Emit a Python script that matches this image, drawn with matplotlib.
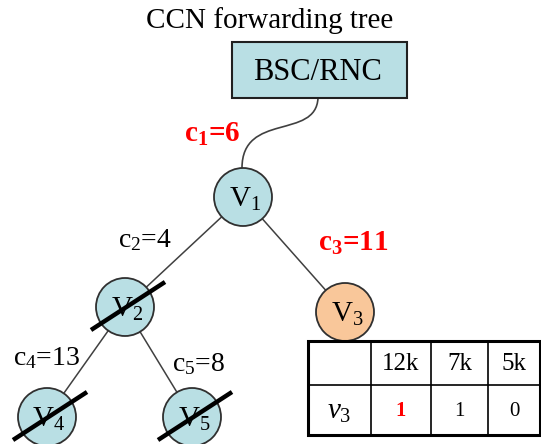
import matplotlib
matplotlib.use("Agg")
import matplotlib.pyplot as plt
from matplotlib.patches import Circle, Rectangle, PathPatch
from matplotlib.path import Path

plt.rcParams['font.family'] = ['Liberation Serif', 'DejaVu Serif']
plt.rcParams['mathtext.fontset'] = 'custom'
plt.rcParams['mathtext.rm'] = 'Liberation Serif'
plt.rcParams['mathtext.it'] = 'Liberation Serif:italic'
plt.rcParams['mathtext.bf'] = 'Liberation Serif:bold'

# data
title = "CCN forwarding tree"
root = "BSC/RNC"
nodes = ["1", "2", "3", "4", "5"]
edges = [("root", "1", "1", 6), ("1", "2", "2", 4), ("1", "3", "3", 11),
         ("2", "4", "4", 13), ("2", "5", "5", 8)]
highlight_costs = ["1", "3"]
struck = ["2", "4", "5"]
served = ["3"]
table_cols = ["12k", "7k", "5k"]
table_row_label = r"$\mathit{v_3}$"
table_vals = [1, 1, 0]
table_red = [0]

# layout (pixel coords, y down)
pos = {"1": (243, 197), "2": (125, 307), "3": (345, 312), "4": (47, 417), "5": (192, 417)}
label_pos = {"1": (212, 134), "2": (145, 240), "3": (353, 243), "4": (47, 358), "5": (199, 364)}
R = 29
blue = "#b9dfe4"
orange = "#f9c79a"

fig = plt.figure(figsize=(5.41, 4.44), dpi=100)
ax = fig.add_axes([0, 0, 1, 1])
ax.set_xlim(0, 541)
ax.set_ylim(444, 0)
ax.axis("off")

ax.text(270, 21, title, ha="center", va="center", fontsize=21)
ax.add_patch(Rectangle((232, 42), 175, 56, facecolor=blue, edgecolor="#202020", lw=1.5, zorder=2))
ax.text(317, 72, root, ha="center", va="center", fontsize=22, zorder=3)

for parent, child, idx, cost in edges:
    cx, cy = pos[child]
    if parent == "root":
        verts = [(318, 98), (316, 140), (242, 112), (242, cy - R)]
        path = Path(verts, [Path.MOVETO, Path.CURVE4, Path.CURVE4, Path.CURVE4])
        ax.add_patch(PathPatch(path, fill=False, edgecolor="#404040", lw=1.2, zorder=1))
    else:
        px, py = pos[parent]
        ax.plot([px, cx], [py, cy], color="#404040", lw=1.1, zorder=1)
    red = idx in highlight_costs
    if red:
        s = r"c$_\mathbf{%s}$=%d" % (idx, cost)
    else:
        s = r"c$_{%s}$=%d" % (idx, cost)
    ax.text(*label_pos[idx], s, ha="center", va="center", fontsize=21 if red else 20,
            color="red" if red else "black", fontweight="bold" if red else "normal", zorder=4)

for n in nodes:
    x, y = pos[n]
    ax.add_patch(Circle((x, y), R, facecolor=orange if n in served else blue,
                        edgecolor="#303030", lw=1.3, zorder=2))
    ax.text(x + 2, y + 2, r"V$_{%s}$" % n, ha="center", va="center", fontsize=21, zorder=3)
    if n in struck:
        ax.plot([x - 34, x + 40], [y + 23, y - 25], color="black", lw=3.2,
                solid_capstyle="butt", zorder=5)

# table
tx0, tx1, ty0, ty1 = 308, 540, 341, 435
col_x = [tx0, 371, 431, 488, tx1]
row_y = [ty0, 385, ty1]
for x in col_x[1:-1]:
    ax.plot([x, x], [ty0, ty1], color="black", lw=1.2, zorder=2)
ax.plot([tx0, tx1], [row_y[1], row_y[1]], color="black", lw=1.2, zorder=2)
ax.add_patch(Rectangle((tx0, ty0), tx1 - tx0, ty1 - ty0, fill=False, edgecolor="black", lw=2.2, zorder=3))
for i, c in enumerate(table_cols):
    xc = (col_x[i + 1] + col_x[i + 2]) / 2
    ax.text(xc, (row_y[0] + row_y[1]) / 2 + 1, c, ha="center", va="center", fontsize=18)
    red = i in table_red
    ax.text(xc, (row_y[1] + row_y[2]) / 2 + 1, str(table_vals[i]), ha="center", va="center", fontsize=15,
            color="red" if red else "black", fontweight="bold" if red else "normal")
ax.text((col_x[0] + col_x[1]) / 2, (row_y[1] + row_y[2]) / 2 + 2, table_row_label,
        ha="center", va="center", fontsize=21)

fig.savefig("out.png", dpi=100)
